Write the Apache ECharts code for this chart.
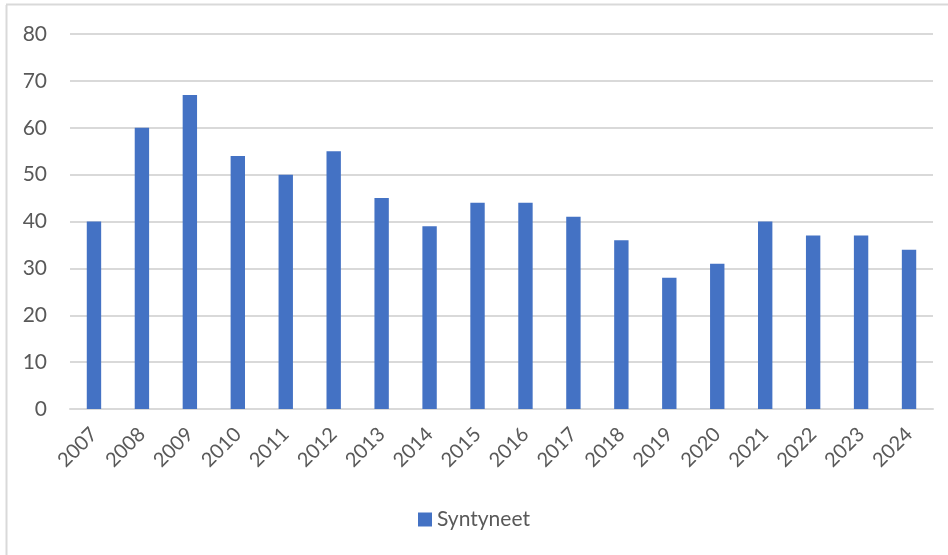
<!DOCTYPE html>
<html><head><meta charset="utf-8">
<script src="https://cdn.jsdelivr.net/npm/echarts@6/dist/echarts.min.js"></script>
<style>html,body{margin:0;padding:0;background:#fff}#c{width:948px;height:555px}</style>
</head><body><div id="c"></div>
<script>
const categories = ['2007','2008','2009','2010','2011','2012','2013','2014','2015','2016','2017','2018','2019','2020','2021','2022','2023','2024'];
const syntyneet = [40,60,67,54,50,55,45,39,44,44,41,36,28,31,40,37,37,34];
const yTicks = [0,10,20,30,40,50,60,70,80];
const seriesName = 'Syntyneet';

const chart = echarts.init(document.getElementById('c'), null, {renderer:'canvas'});
const font = 'Lato, "Liberation Sans", sans-serif';
chart.setOption({
  animation:false,
  textStyle:{fontFamily:font},
  graphic:[
    {type:'line', shape:{x1:6.5,y1:5,x2:6.5,y2:555}, style:{stroke:'#d9d9d9',lineWidth:2}},
    {type:'line', shape:{x1:6,y1:4.5,x2:948,y2:4.5}, style:{stroke:'#d9d9d9',lineWidth:2}}
  ],
  grid:{left:70,right:15,top:34,bottom:146},
  legend:{bottom:20,left:'center',itemWidth:14,itemHeight:14,icon:'rect',itemGap:6,
    textStyle:{color:'#595959',fontSize:21,fontFamily:font},data:[seriesName]},
  xAxis:{type:'category',data:categories,
    axisLine:{lineStyle:{color:'#d9d9d9',width:2}},axisTick:{show:false},
    axisLabel:{rotate:45,color:'#595959',fontSize:20,margin:22,interval:0,fontFamily:font}},
  yAxis:{type:'value',min:yTicks[0],max:yTicks[yTicks.length-1],interval:10,
    axisLine:{show:false},axisTick:{show:false},
    axisLabel:{color:'#595959',fontSize:21,margin:23,fontFamily:font},
    splitLine:{lineStyle:{color:'#d9d9d9',width:2}}},
  series:[{name:seriesName,type:'bar',data:syntyneet,barWidth:'30%',
    itemStyle:{color:'#4472c4'}}]
});
</script></body></html>
